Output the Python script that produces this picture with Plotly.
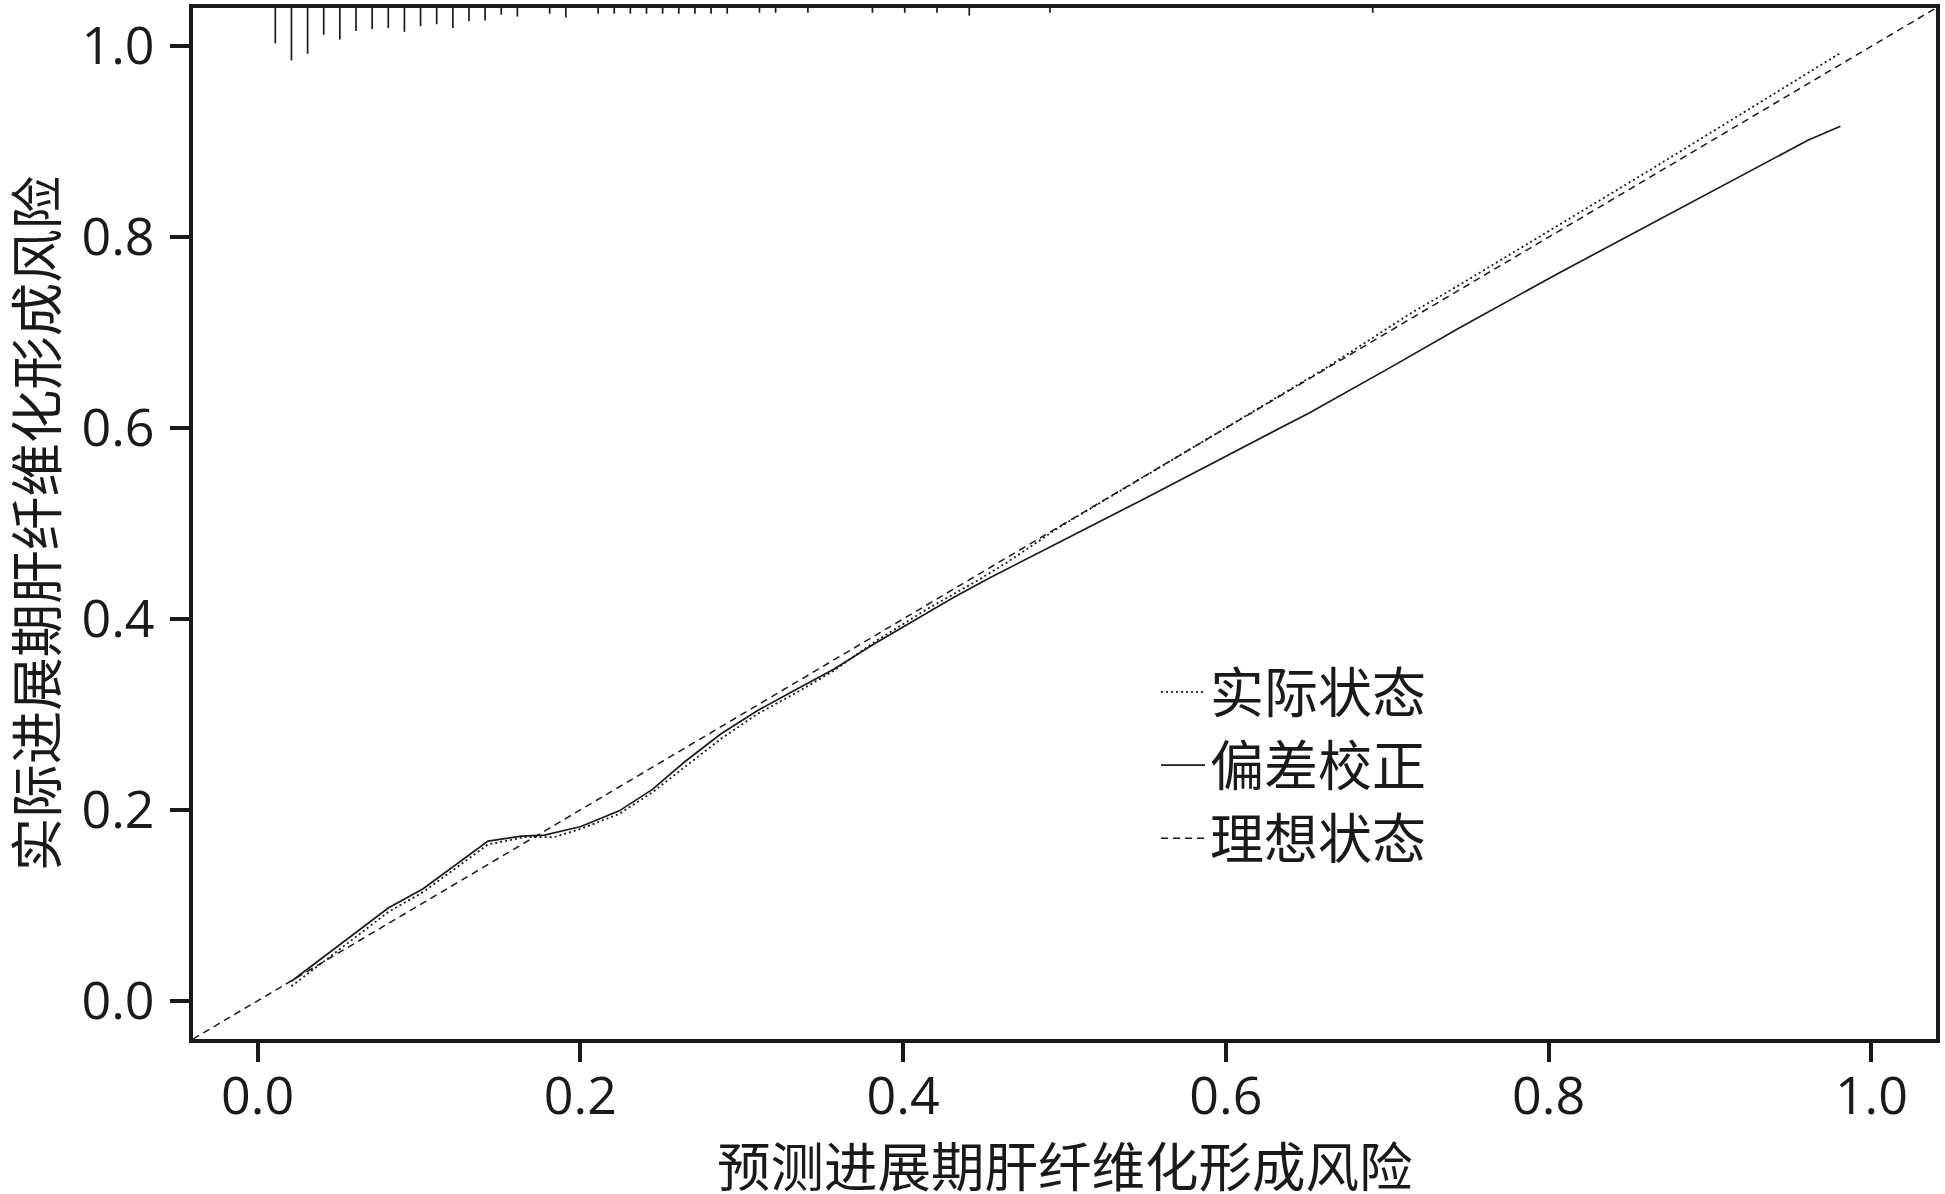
import plotly.graph_objects as go

# ---- data ----
apparent_x = [0.021, 0.081, 0.1026, 0.1428, 0.1654, 0.1839, 0.2004, 0.2241, 0.2447, 0.2643,
              0.287, 0.3096, 0.3323, 0.357, 0.3817, 0.4147, 0.4456, 0.4642, 0.4971, 0.5795,
              0.662, 0.7146, 0.7443, 0.8628, 0.9808]
apparent_y = [0.0153, 0.093, 0.1139, 0.1638, 0.1715, 0.1715, 0.1802, 0.1958, 0.2185, 0.2447,
              0.2743, 0.3004, 0.3213, 0.3457, 0.3753, 0.4102, 0.4398, 0.4590, 0.4965, 0.5795,
              0.663, 0.7202, 0.7495, 0.8703, 0.9929]

bias_x = [0.021, 0.081, 0.1026, 0.1428, 0.1634, 0.1778, 0.2004, 0.2241, 0.2447, 0.2643,
          0.287, 0.3096, 0.3323, 0.357, 0.3817, 0.4044, 0.4312, 0.4538, 0.4765, 0.4971,
          0.5486, 0.6001, 0.6516, 0.7031, 0.7443, 0.8061, 0.8525, 0.9606, 0.9808]
bias_y = [0.0205, 0.0972, 0.1174, 0.1673, 0.1725, 0.1735, 0.1826, 0.1990, 0.2215, 0.2499,
          0.2795, 0.3039, 0.3248, 0.3474, 0.3736, 0.3963, 0.4224, 0.4433, 0.4625, 0.4806,
          0.5252, 0.5705, 0.6158, 0.6646, 0.7045, 0.7622, 0.8040, 0.9014, 0.9162]

ideal_x = [-0.04, 1.04]
ideal_y = [-0.04, 1.04]

# spike histogram of predicted probabilities (top of plot)
spike_x = [0.011, 0.021, 0.031, 0.041, 0.051, 0.061, 0.071, 0.081, 0.091, 0.101,
           0.111, 0.121, 0.131, 0.141, 0.151, 0.161, 0.181, 0.191, 0.211, 0.221,
           0.231, 0.241, 0.251, 0.261, 0.271, 0.281, 0.291, 0.311, 0.321, 0.341,
           0.381, 0.401, 0.421, 0.441, 0.491, 0.691]
spike_h = [0.037, 0.055, 0.048, 0.028, 0.033, 0.024, 0.022, 0.021, 0.025, 0.019,
           0.017, 0.021, 0.014, 0.013, 0.007, 0.009, 0.006, 0.010, 0.006, 0.006,
           0.006, 0.006, 0.006, 0.006, 0.006, 0.006, 0.006, 0.005, 0.005, 0.005,
           0.005, 0.005, 0.005, 0.008, 0.005, 0.005]

x_ticks = [0.0, 0.2, 0.4, 0.6, 0.8, 1.0]
y_ticks = [0.0, 0.2, 0.4, 0.6, 0.8, 1.0]
axis_range = [-0.04, 1.04]

names = ["实际状态", "偏差校正", "理想状态"]
x_title = "预测进展期肝纤维化形成风险"
y_title = "实际进展期肝纤维化形成风险"

INK = "#1a1a1a"
FONT = "Open Sans, Noto Sans CJK SC, sans-serif"

fig = go.Figure()

# spikes
sx, sy = [], []
top = axis_range[1]
for xv, h in zip(spike_x, spike_h):
    sx += [xv, xv, None]
    sy += [top, top - h, None]
fig.add_trace(go.Scatter(x=sx, y=sy, mode="lines", line=dict(color=INK, width=1.7),
                         showlegend=False, hoverinfo="skip"))

fig.add_trace(go.Scatter(x=apparent_x, y=apparent_y, mode="lines", name=names[0],
                         line=dict(color=INK, width=1.8, dash="2px,3px"), legendrank=1))
fig.add_trace(go.Scatter(x=bias_x, y=bias_y, mode="lines", name=names[1],
                         line=dict(color=INK, width=1.7), legendrank=2))
fig.add_trace(go.Scatter(x=ideal_x, y=ideal_y, mode="lines", name=names[2],
                         line=dict(color=INK, width=1.5, dash="7px,5px"), legendrank=3))

axis_common = dict(
    range=axis_range, showgrid=False, zeroline=False, automargin=False,
    showline=True, linecolor=INK, linewidth=4, mirror=True,
    ticks="outside", ticklen=19, tickwidth=4, tickcolor=INK,
    tickformat=".1f", tickfont=dict(family=FONT, size=52, color=INK),
)

fig.update_layout(
    width=1945, height=1194,
    paper_bgcolor="white", plot_bgcolor="white",
    margin=dict(l=193, r=9, t=8, b=155),
    font=dict(family=FONT, color=INK),
    xaxis=dict(**axis_common, tickvals=x_ticks, ticklabelstandoff=-10),
    yaxis=dict(**axis_common, tickvals=y_ticks, ticklabelstandoff=5,
               title=dict(text=y_title, font=dict(family=FONT, size=53.5, color=INK), standoff=13)),
    legend=dict(x=0.5525, y=0.377, xanchor="left", yanchor="top",
                font=dict(family=FONT, size=54, color=INK), itemwidth=44,
                bgcolor="rgba(0,0,0,0)", borderwidth=0, tracegroupgap=0),
    showlegend=True,
    annotations=[dict(text=x_title, xref="paper", yref="paper", x=0.5, y=-0.1235,
                      xanchor="center", yanchor="middle", showarrow=False,
                      font=dict(family=FONT, size=53.5, color=INK))],
)

fig.write_html(
    "out.html",
    config={"displayModeBar": False},
    post_script="document.body.style.margin='0';document.body.style.overflow='hidden';",
)
